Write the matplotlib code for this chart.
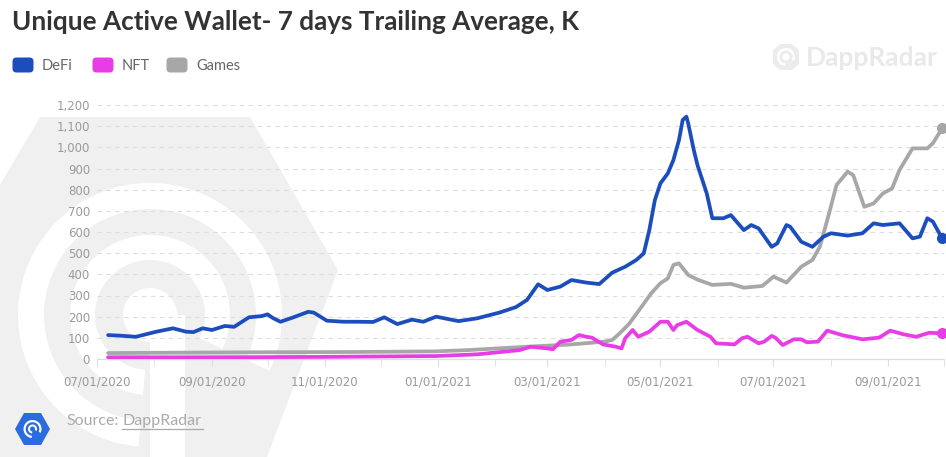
import numpy as np
import pandas as pd
import matplotlib
matplotlib.use("Agg")
import matplotlib.pyplot as plt
import matplotlib.dates as mdates
from matplotlib.patches import Polygon, Wedge, Rectangle, FancyBboxPatch, Circle
from matplotlib.ticker import FuncFormatter, MultipleLocator

# values in thousands
defi_dates = ["2020-07-07", "2020-07-14", "2020-07-22", "2020-08-02", "2020-08-11", "2020-08-18",
              "2020-08-22", "2020-08-27", "2020-09-01", "2020-09-08", "2020-09-13", "2020-09-21",
              "2020-09-28", "2020-10-01", "2020-10-04", "2020-10-08", "2020-10-15", "2020-10-23",
              "2020-10-26", "2020-11-02", "2020-11-11", "2020-11-18", "2020-11-27", "2020-12-03",
              "2020-12-10", "2020-12-18", "2020-12-24", "2020-12-31", "2021-01-12", "2021-01-22",
              "2021-02-03", "2021-02-12", "2021-02-18", "2021-02-24", "2021-03-01", "2021-03-08",
              "2021-03-14", "2021-03-22", "2021-03-29", "2021-04-05", "2021-04-12", "2021-04-18",
              "2021-04-22", "2021-04-25", "2021-04-28", "2021-05-01", "2021-05-05", "2021-05-08",
              "2021-05-11", "2021-05-13", "2021-05-15", "2021-05-16", "2021-05-19", "2021-05-21",
              "2021-05-26", "2021-05-29", "2021-06-04", "2021-06-08", "2021-06-15", "2021-06-19",
              "2021-06-23", "2021-06-30", "2021-07-03", "2021-07-08", "2021-07-10", "2021-07-16",
              "2021-07-22", "2021-07-28", "2021-08-01", "2021-08-10", "2021-08-18", "2021-08-24",
              "2021-08-29", "2021-09-07", "2021-09-14", "2021-09-18", "2021-09-22", "2021-09-25",
              "2021-09-30"]
defi = [113, 110, 105, 129, 145, 129, 127, 145, 137, 156, 152, 197, 203, 211, 193, 176, 197, 223,
        219, 181, 176, 176, 175, 197, 165, 186, 176, 200, 179, 192, 219, 245, 279, 353, 326, 342,
        373, 361, 354, 408, 436, 468, 499, 609, 751, 830, 877, 940, 1034, 1129, 1145, 1113, 987, 916,
        782, 665, 665, 680, 609, 633, 617, 530, 546, 633, 625, 554, 530, 578, 594, 583, 594, 641,
        633, 641, 570, 578, 665, 649, 570]

games_dates = ["2020-07-07", "2020-08-15", "2020-10-01", "2020-11-15", "2020-12-31", "2021-01-17",
               "2021-02-18", "2021-03-14", "2021-04-01", "2021-04-05", "2021-04-09", "2021-04-14",
               "2021-04-19", "2021-04-26", "2021-05-01", "2021-05-05", "2021-05-08", "2021-05-11",
               "2021-05-16", "2021-05-21", "2021-05-29", "2021-06-08", "2021-06-15", "2021-06-25",
               "2021-07-01", "2021-07-08", "2021-07-16", "2021-07-22", "2021-07-26", "2021-07-31",
               "2021-08-04", "2021-08-10", "2021-08-13", "2021-08-19", "2021-08-24", "2021-08-29",
               "2021-09-03", "2021-09-07", "2021-09-14", "2021-09-22", "2021-09-25", "2021-09-30"]
games = [28, 30, 32, 33, 36, 42, 58, 69, 82, 90, 121, 165, 225, 310, 358, 381, 444, 452, 397, 375,
         350, 355, 337, 345, 389, 361, 436, 468, 530, 688, 822, 885, 869, 719, 735, 782, 806, 893,
         995, 995, 1019, 1090]

nft_dates = ["2020-07-07", "2020-09-01", "2020-11-01", "2020-12-31", "2021-01-22", "2021-02-06",
             "2021-02-14", "2021-02-20", "2021-03-01", "2021-03-04", "2021-03-08", "2021-03-14",
             "2021-03-18", "2021-03-22", "2021-03-25", "2021-03-31", "2021-04-07", "2021-04-10",
             "2021-04-12", "2021-04-16", "2021-04-19", "2021-04-25", "2021-05-01", "2021-05-05",
             "2021-05-08", "2021-05-10", "2021-05-15", "2021-05-21", "2021-05-28", "2021-05-31",
             "2021-06-10", "2021-06-14", "2021-06-17", "2021-06-23", "2021-06-26", "2021-06-30",
             "2021-07-02", "2021-07-06", "2021-07-12", "2021-07-16", "2021-07-19", "2021-07-25",
             "2021-07-30", "2021-08-07", "2021-08-18", "2021-08-27", "2021-09-02", "2021-09-09",
             "2021-09-16", "2021-09-23", "2021-09-30"]
nft = [8, 8, 10, 14, 22, 35, 42, 58, 50, 46, 82, 90, 113, 105, 101, 69, 58, 50, 98, 137, 105, 129,
       176, 176, 137, 160, 176, 137, 105, 74, 69, 98, 105, 74, 82, 109, 101, 66, 93, 93, 79, 82,
       134, 113, 93, 101, 134, 117, 105, 124, 121]

series_names = ["DeFi", "NFT", "Games"]
series_colors = ["#1b4dbd", "#e83de6", "#a7a7a7"]

W, H = 946, 457
fig = plt.figure(figsize=(W / 100, H / 100), dpi=100)
fig.patch.set_facecolor("white")

# background / watermark layer in pixel coords (y grows downward)
bg = fig.add_axes([0, 0, 1, 1], zorder=0)
bg.set_xlim(0, W)
bg.set_ylim(H, 0)
bg.axis("off")

wm = "#f0f0f0"
bg.add_patch(Polygon([(40, 117), (250, 117), (338, 270), (262, 470), (0, 470), (0, 185)],
                     closed=True, fc=wm, ec="none"))
cx, cy = 150, 315
bg.add_patch(Wedge((cx, cy), 132, 95, 25, width=26, fc="white", ec="none"))
bg.add_patch(Wedge((cx, cy), 80, 95, 25, width=25, fc="white", ec="none"))
bg.add_patch(Circle((cx, cy), 27, fc="white", ec="none"))
bg.add_patch(Rectangle((cx, cy), 35, 160, fc="white", ec="none"))

# top-right faint logo
bg.add_patch(Polygon([(773, 50), (780, 44), (792, 44), (799, 50), (799, 64), (792, 70),
                      (780, 70), (773, 64)], closed=True, fc="#ececec", ec="none"))
bg.add_patch(Wedge((786, 57), 9, 95, 25, width=2.5, fc="white", ec="none"))
bg.add_patch(Circle((786, 57), 3.5, fc="white", ec="none"))
bg.text(806, 58, "DappRadar", fontsize=19, color="#e9e9e9", fontweight="bold",
        family="Lato", va="center", ha="left")

# title + legend
bg.text(12, 22, "Unique Active Wallet- 7 days Trailing Average, K", fontsize=18.8,
        fontweight="bold", color="#333333", family="Lato", va="center", ha="left")
leg_x = [12, 92, 166]
for lx, name, col in zip(leg_x, series_names, series_colors):
    bg.add_patch(FancyBboxPatch((lx + 2, 59), 18, 12, boxstyle="round,pad=1.5,rounding_size=4",
                                fc=col, ec="none"))
    bg.text(lx + 30, 65.5, name, fontsize=10.5, color="#666666", family="Lato",
            va="center", ha="left")

# source logo
bg.add_patch(Polygon([(24, 413), (41, 413), (50, 429), (41, 445), (24, 445), (15, 429)],
                     closed=True, fc="#2b6be0", ec="none"))
bg.add_patch(Wedge((32.5, 429), 9, 95, 25, width=2.2, fc="white", ec="none"))
bg.add_patch(Wedge((32.5, 429), 4.5, 95, 25, width=2, fc="white", ec="none"))
bg.text(66, 421, "Source:", fontsize=11.5, color="#aaaaaa", family="Lato", va="center", ha="left")
bg.text(122, 421, "DappRadar", fontsize=11.5, color="#aaaaaa", family="Lato", va="center",
        ha="left")
bg.plot([122, 203], [429, 429], color="#aaaaaa", lw=0.9)

# main chart
ax = fig.add_axes([97 / W, 1 - 359 / H, 847 / W, 254 / H], zorder=2)
ax.patch.set_alpha(0)

data = [(defi_dates, defi), (nft_dates, nft), (games_dates, games)]
for i in [2, 1, 0]:
    d, v = data[i]
    dt = pd.to_datetime(d)
    ax.plot(dt, v, color=series_colors[i], lw=2.7, solid_joinstyle="round",
            solid_capstyle="round", zorder=3)
    ax.plot(dt[-1], v[-1], "o", color=series_colors[i], ms=7, clip_on=False, zorder=4)

ax.set_xlim(pd.Timestamp("2020-07-01"), pd.Timestamp("2021-10-01"))
ax.set_ylim(0, 1200)
ax.yaxis.set_major_locator(MultipleLocator(100))
ax.yaxis.set_major_formatter(FuncFormatter(lambda v, p: f"{int(v):,}"))
ax.grid(axis="y", color="#dddddd", ls=(0, (4, 4)), lw=0.8)
ax.set_axisbelow(True)

ax.xaxis.set_major_locator(mdates.MonthLocator(bymonth=[1, 3, 5, 7, 9, 11]))
ax.xaxis.set_minor_locator(mdates.MonthLocator())
ax.xaxis.set_major_formatter(mdates.DateFormatter("%m/%d/%Y"))

for s in ["top", "right", "left"]:
    ax.spines[s].set_visible(False)
ax.spines["bottom"].set_color("#dddddd")
ax.spines["bottom"].set_linewidth(0.9)

ax.tick_params(axis="y", length=0, pad=5, labelsize=8.5, labelcolor="#9a9a9a")
ax.tick_params(axis="x", which="both", length=5, color="#dddddd", pad=7, labelsize=8.5,
               labelcolor="#9a9a9a")
for lab in ax.get_xticklabels() + ax.get_yticklabels():
    lab.set_family("DejaVu Sans")

fig.savefig("out.png", dpi=100, facecolor="white")
